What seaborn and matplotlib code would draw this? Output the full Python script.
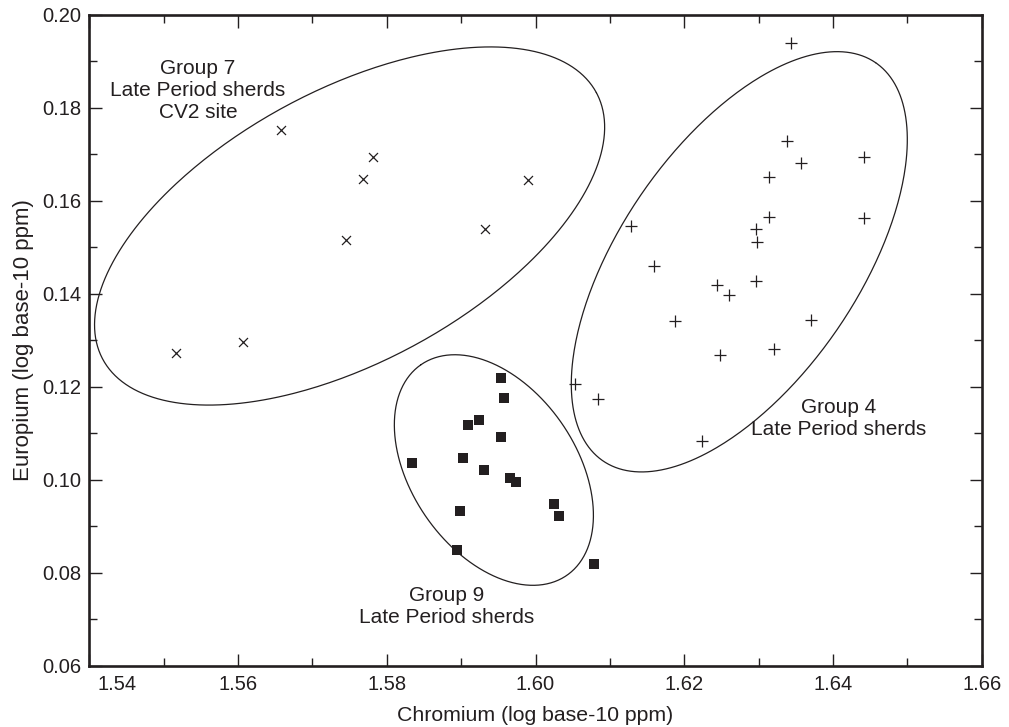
import numpy as np
import pandas as pd
import matplotlib
matplotlib.use("Agg")
import matplotlib.pyplot as plt
import matplotlib.transforms as mtransforms
from matplotlib.ticker import MultipleLocator, FormatStrFormatter
import seaborn as sns

# Group 7 - Late Period sherds, CV2 site (x markers)
g7_cr = [1.5658, 1.5782, 1.5768, 1.5990, 1.5745, 1.5932, 1.5517, 1.5606]
g7_eu = [0.1753, 0.1695, 0.1647, 0.1644, 0.1515, 0.1540, 0.1273, 0.1296]

# Group 4 - Late Period sherds (+ markers)
g4_cr = [1.6343, 1.6338, 1.6357, 1.6442, 1.6314, 1.6314, 1.6442, 1.6129, 1.6296,
         1.6298, 1.6159, 1.6244, 1.6260, 1.6297, 1.6188, 1.6371, 1.6248, 1.6321,
         1.6053, 1.6084, 1.6224]
g4_eu = [0.1939, 0.1728, 0.1682, 0.1694, 0.1651, 0.1566, 0.1563, 0.1545, 0.1539,
         0.1512, 0.1461, 0.1419, 0.1397, 0.1428, 0.1342, 0.1344, 0.1268, 0.1282,
         0.1207, 0.1173, 0.1083]

# Group 9 - Late Period sherds (filled squares)
g9_cr = [1.5954, 1.5958, 1.5924, 1.5909, 1.5954, 1.5834, 1.5902, 1.5931, 1.5966,
         1.5974, 1.6025, 1.6032, 1.5898, 1.5895, 1.6078]
g9_eu = [0.1218, 0.1175, 0.1128, 0.1117, 0.1091, 0.1037, 0.1046, 0.1020, 0.1003,
         0.0995, 0.0947, 0.0923, 0.0933, 0.0850, 0.0818]

x_ticks = [1.54, 1.56, 1.58, 1.60, 1.62, 1.64, 1.66]
y_ticks = [0.06, 0.08, 0.10, 0.12, 0.14, 0.16, 0.18, 0.20]

# group labels: (text, x, y)
group_labels = [
    ("Group 7\nLate Period sherds\nCV2 site", 1.5546, 0.1837),
    ("Group 4\nLate Period sherds", 1.6408, 0.1131),
    ("Group 9\nLate Period sherds", 1.5880, 0.0727),
]

# confidence ellipses: center (data), semi-axes (px), angle (deg)
ellipses = [
    (1.5750, 0.1546, 280.5, 135.8, 28.4),
    (1.6274, 0.1469, 241.3, 119.0, 55.6),
    (1.5944, 0.1021, 128.1, 82.4, 124.7),
]

ink = "#231f20"
narrow = ["Liberation Sans Narrow", "Liberation Sans", "DejaVu Sans"]

sns.set_theme(style="ticks")
plt.rcParams["font.family"] = ["Liberation Sans", "DejaVu Sans"]

fig, ax = plt.subplots(figsize=(10.09, 7.27), dpi=100)
fig.subplots_adjust(left=0.0885, right=0.973, top=0.9794, bottom=0.0843)

df7 = pd.DataFrame({"cr": g7_cr, "eu": g7_eu})
df4 = pd.DataFrame({"cr": g4_cr, "eu": g4_eu})
df9 = pd.DataFrame({"cr": g9_cr, "eu": g9_eu})

sns.scatterplot(data=df7, x="cr", y="eu", marker="x", color=ink, s=42, linewidth=0.9, ax=ax)
sns.scatterplot(data=df4, x="cr", y="eu", marker="+", color=ink, s=70, linewidth=0.9, ax=ax)
sns.scatterplot(data=df9, x="cr", y="eu", marker="s", color=ink, s=52, linewidth=0, ax=ax)

ax.set_xlim(1.54, 1.66)
ax.set_ylim(0.06, 0.20)
ax.set_xticks(x_ticks)
ax.set_yticks(y_ticks)
ax.xaxis.set_major_formatter(FormatStrFormatter("%.2f"))
ax.yaxis.set_major_formatter(FormatStrFormatter("%.2f"))
ax.xaxis.set_minor_locator(MultipleLocator(0.01))
ax.yaxis.set_minor_locator(MultipleLocator(0.01))
ax.tick_params(which="both", direction="in", top=True, right=True, color=ink, width=1)
ax.tick_params(which="major", length=9)
ax.tick_params(which="minor", length=6)
ax.tick_params(axis="y", labelsize=14.5, labelcolor=ink, pad=5.5)
ax.tick_params(axis="x", labelsize=14.5, labelcolor=ink, pad=7)
for lab in ax.get_xticklabels():
    lab.set_family(narrow)
for sp in ax.spines.values():
    sp.set_linewidth(1.9)
    sp.set_color(ink)

ax.set_xlabel("Chromium (log base-10 ppm)", fontsize=15.3, color=ink, labelpad=8.5,
              family=narrow)
ax.set_ylabel("Europium (log base-10 ppm)", fontsize=16, color=ink, labelpad=6,
              family=narrow)

# first x label sits shifted right in the original
first = ax.get_xticklabels()[0]
first.set_transform(first.get_transform() +
                    mtransforms.ScaledTranslation(0.28, 0, fig.dpi_scale_trans))

# ellipses drawn in pixel space, mapped back to data
t = np.linspace(0, 2 * np.pi, 400)
for cx, cy, a, b, ang in ellipses:
    c = ax.transData.transform((cx, cy))
    th = np.deg2rad(ang)
    ex = a * np.cos(t)
    ey = b * np.sin(t)
    px = c[0] + ex * np.cos(th) - ey * np.sin(th)
    py = c[1] + ex * np.sin(th) + ey * np.cos(th)
    pts = ax.transData.inverted().transform(np.column_stack([px, py]))
    ax.plot(pts[:, 0], pts[:, 1], color=ink, lw=0.9)

for txt, tx, ty in group_labels:
    ax.text(tx, ty, txt, ha="center", va="center", multialignment="center",
            fontsize=15, color=ink, linespacing=1.2)

ax.set_xlim(1.54, 1.66)
ax.set_ylim(0.06, 0.20)

fig.savefig("out.png", dpi=100)
